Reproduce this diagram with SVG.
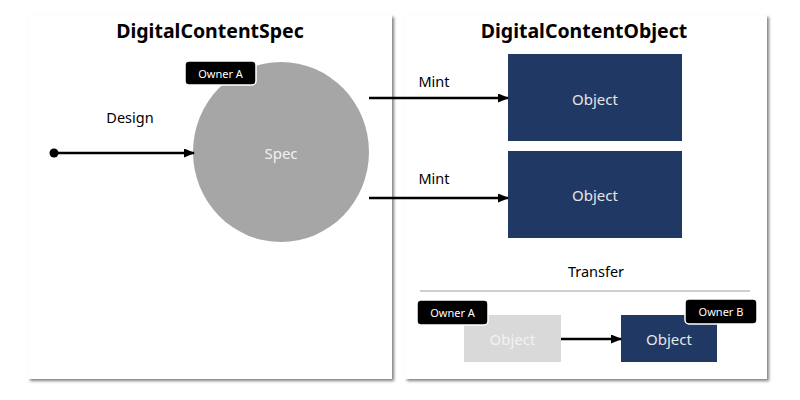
<svg xmlns="http://www.w3.org/2000/svg" width="800" height="400" viewBox="0 0 800 400">
<defs>
<filter id="sh" x="-5%" y="-5%" width="112%" height="112%">
<feGaussianBlur in="SourceAlpha" stdDeviation="1.5"/>
<feOffset dx="2" dy="2" result="b"/>
<feComponentTransfer><feFuncA type="linear" slope="0.5"/></feComponentTransfer>
<feMerge><feMergeNode/><feMergeNode in="SourceGraphic"/></feMerge>
</filter>
<marker id="ah" markerWidth="11" markerHeight="9" refX="10" refY="4.5" orient="auto" markerUnits="userSpaceOnUse">
<path d="M0,0 L11,4.5 L0,9 z" fill="#000"/>
</marker>
<marker id="dot" markerWidth="10" markerHeight="10" refX="5" refY="5" markerUnits="userSpaceOnUse">
<circle cx="5" cy="5" r="4.5" fill="#000"/>
</marker>
</defs>
<style>
.panel{fill:#fff;filter:url(#sh)}
.title{font-family:"Noto Sans","DejaVu Sans",sans-serif;font-weight:bold;font-size:19.5px;fill:#000;text-anchor:middle}
.lbl{font-family:"Noto Sans","DejaVu Sans",sans-serif;font-size:14.5px;fill:#000;text-anchor:middle}
.obj{fill:#203864}
.objt{font-family:"Noto Sans","DejaVu Sans",sans-serif;font-size:15px;fill:#e6e6e6;text-anchor:middle;dominant-baseline:central}
.own{fill:#000;stroke:#fff;stroke-width:1.5}
.ownt{font-family:"Noto Sans","DejaVu Sans",sans-serif;font-size:11px;fill:#fff;text-anchor:middle;dominant-baseline:central}
.conn{stroke:#000;stroke-width:2.5;fill:none;marker-end:url(#ah)}
</style>
<rect width="800" height="400" fill="#fff"/>
<g id="panel-spec">
<rect class="panel" x="28" y="15" width="364" height="364"/>
<text class="title" x="210" y="38">DigitalContentSpec</text>
</g>
<g id="panel-object">
<rect class="panel" x="405" y="15" width="362" height="364"/>
<text class="title" x="584" y="38">DigitalContentObject</text>
</g>
<g id="spec">
<ellipse cx="281" cy="152" rx="88" ry="90" fill="#a6a6a6"/>
<text class="objt" x="281" y="153" style="fill:#f2f2f2">Spec</text>
</g>
<g id="owner-spec">
<rect class="own" x="185" y="61" width="71" height="24" rx="4"/>
<text class="ownt" x="220.5" y="73">Owner A</text>
</g>
<g id="object1">
<rect class="obj" x="508" y="54" width="174" height="87"/>
<text class="objt" x="595" y="99">Object</text>
</g>
<g id="object2">
<rect class="obj" x="508" y="151" width="174" height="87"/>
<text class="objt" x="595" y="195">Object</text>
</g>
<g id="transfer">
<text class="lbl" x="596" y="277">Transfer</text>
<line x1="420" y1="291" x2="750" y2="291" stroke="#bfbfbf" stroke-width="1.5"/>
</g>
<g id="object-a">
<rect x="464" y="315" width="97" height="47" fill="#d9d9d9"/>
<text class="objt" x="512.5" y="339" style="fill:#f2f2f2">Object</text>
</g>
<g id="owner-a">
<rect class="own" x="417" y="300" width="71" height="25" rx="4"/>
<text class="ownt" x="452.5" y="312.5">Owner A</text>
</g>
<g id="object-b">
<rect class="obj" x="621" y="315" width="96" height="47"/>
<text class="objt" x="669" y="339">Object</text>
</g>
<g id="owner-b">
<rect class="own" x="685" y="299" width="72" height="25" rx="4"/>
<text class="ownt" x="721" y="311.5">Owner B</text>
</g>
<g id="connectors">
<line class="conn" x1="54" y1="153" x2="194" y2="153" style="marker-start:url(#dot)"/>
<text class="lbl" x="130" y="123">Design</text>
<line class="conn" x1="369" y1="98" x2="508" y2="98"/>
<text class="lbl" x="434" y="87">Mint</text>
<line class="conn" x1="369" y1="198" x2="508" y2="198"/>
<text class="lbl" x="434" y="184">Mint</text>
<line class="conn" x1="561" y1="339" x2="621" y2="339"/>
</g>
</svg>
